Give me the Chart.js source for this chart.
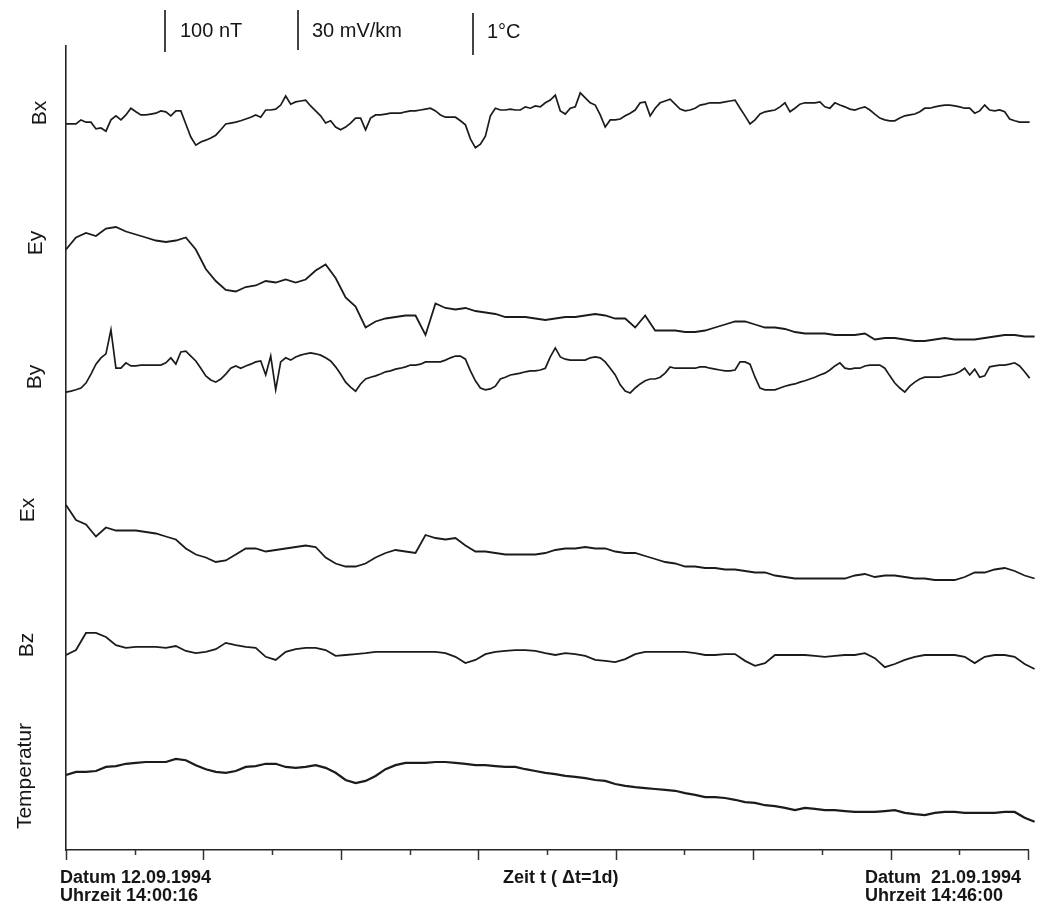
<!DOCTYPE html>
<html>
<head>
<meta charset="utf-8">
<title>Bx Ey By Ex Bz Temperatur</title>
<script src="https://cdn.jsdelivr.net/npm/chart.js@4.4.1/dist/chart.umd.min.js"></script>
<style>
  html, body { margin: 0; padding: 0; background: #fff; }
  #wrap { position: relative; width: 1038px; height: 910px; font-family: "Liberation Sans", Arial, sans-serif; color: #161616; }
  #chart { position: absolute; left: 0; top: 0; }
  .txt { position: absolute; white-space: pre; line-height: 1; }
  .scale { font-size: 20px; top: 20px; }
  .foot { font-size: 18px; font-weight: bold; }
  .ylab { position: absolute; font-size: 21px; line-height: 1; white-space: nowrap; transform: translate(-50%, -50%) rotate(-90deg); }
  .bar { position: absolute; width: 2px; background: #444; }
</style>
</head>
<body>
<div id="wrap">
  <canvas id="chart" width="1038" height="910"></canvas>

  <div class="bar" style="left:164px; top:10px; height:42px;"></div>
  <div class="txt scale" style="left:180px;">100 nT</div>
  <div class="bar" style="left:297px; top:10px; height:40px;"></div>
  <div class="txt scale" style="left:312px;">30 mV/km</div>
  <div class="bar" style="left:472px; top:13px; height:42px;"></div>
  <div class="txt scale" style="left:487px; top:21px;">1°C</div>

  <div class="ylab" style="left:38px; top:113px;">Bx</div>
  <div class="ylab" style="left:34px; top:243px;">Ey</div>
  <div class="ylab" style="left:33px; top:377px;">By</div>
  <div class="ylab" style="left:26px; top:510px;">Ex</div>
  <div class="ylab" style="left:25px; top:645px;">Bz</div>
  <div class="ylab" style="left:23px; top:776px;">Temperatur</div>

  <div class="txt foot" style="left:60px; top:868px;">Datum 12.09.1994</div>
  <div class="txt foot" style="left:60px; top:886px;">Uhrzeit 14:00:16</div>
  <div class="txt foot" style="left:503px; top:868px;">Zeit t ( Δt=1d)</div>
  <div class="txt foot" style="left:865px; top:868px;">Datum  21.09.1994</div>
  <div class="txt foot" style="left:865px; top:886px;">Uhrzeit 14:46:00</div>
</div>

<script>
'use strict';

// ------- Data (samples from 12.09.1994 14:00:16 on) ------- //
const fineStepHours = 1.125;   // Bx, By
const coarseStepHours = 2.25;  // Ey, Ex, Bz, Temperatur
const totalHours = 216.76;     // up to 21.09.1994 14:46:00
const tickCount = 14;

// nT
const bxValues = [
  -31, -31, -31, -22, -27, -27, -42, -40, -47, -22, -13, -22, -11, 4, -4, -11, -11, -9, -7, -2,
  -4, -13, -2, -2, -31, -60, -78, -71, -67, -62, -56, -44, -31, -29, -27, -24, -20, -16, -11, -16,
  0, 0, 2, 11, 31, 13, 18, 20, 22, 9, -2, -13, -29, -24, -38, -44, -38, -29, -18, -18,
  -44, -18, -11, -11, -9, -7, -7, -7, -4, -2, -2, 0, 2, 4, -2, -11, -16, -16, -16, -24,
  -33, -64, -84, -76, -58, -13, 4, 0, 0, 2, 0, 0, 7, 4, 9, 7, 16, 22, 33, -2,
  -9, 4, 7, 38, 27, 16, 11, -11, -38, -22, -22, -20, -13, -7, 0, 16, 18, -13, 4, 16,
  20, 24, 13, 2, -2, 0, 4, 11, 13, 16, 16, 16, 18, 20, 22, 4, -13, -31, -22, -9,
  -4, -2, 0, 7, 16, -4, 4, 13, 16, 16, 16, 18, 7, 4, 16, 11, 7, 2, 0, 4,
  7, 0, -9, -18, -22, -24, -24, -18, -13, -11, -9, -4, 4, 4, 7, 9, 11, 11, 9, 7,
  4, 4, -7, -2, 11, 0, -2, 0, -4, -20, -24, -27, -27, -27, -27,
];

// mV/km
const eyValues = [
  47, 55, 58, 56, 61, 62, 59, 57, 55, 53,
  52, 53, 55, 47, 34, 26, 20, 19, 22, 23,
  26, 25, 27, 25, 27, 33, 37, 28, 15, 9,
  -5, -1, 1, 2, 3, 3, -10, 11, 8, 7,
  8, 6, 5, 4, 2, 2, 2, 1, 0, 1,
  2, 2, 3, 4, 3, 1, 1, -5, 3, -7,
  -7, -7, -8, -8, -7, -5, -3, -1, -1, -3,
  -5, -5, -6, -8, -9, -9, -9, -10, -10, -10,
  -9, -13, -12, -12, -13, -14, -14, -13, -12, -13,
  -13, -13, -12, -11, -10, -10, -11, -11,
];

// nT
const byValues = [
  -49, -47, -44, -40, -29, -9, 13, 27, 36, 89,
  4, 4, 16, 9, 9, 11, 11, 11, 11, 11,
  16, 27, 13, 40, 42, 31, 20, 4, -13, -22,
  -27, -20, -9, 4, 9, 4, 9, 13, 18, 20,
  -11, 31, -44, 18, 27, 22, 29, 33, 36, 38,
  36, 33, 27, 20, 7, -9, -27, -38, -47, -31,
  -20, -16, -13, -9, -4, -2, 2, 4, 7, 11,
  11, 13, 18, 18, 18, 18, 22, 27, 31, 31,
  24, -2, -24, -40, -44, -42, -36, -20, -16, -11,
  -9, -7, -4, -2, -2, 0, 4, 29, 49, 29,
  24, 22, 22, 22, 22, 27, 29, 27, 18, 4,
  -11, -33, -47, -51, -40, -31, -24, -20, -20, -16,
  -7, 7, 4, 4, 4, 4, 4, 7, 7, 4,
  2, 0, -2, -2, 0, 18, 18, 13, -16, -40,
  -44, -44, -44, -40, -36, -33, -31, -27, -24, -20,
  -16, -11, -7, 0, 9, 16, 4, 2, 4, 4,
  9, 11, 11, 11, 4, -13, -29, -40, -49, -36,
  -27, -20, -16, -16, -16, -16, -13, -11, -9, -4,
  4, -11, 2, -16, -13, 7, 9, 11, 11, 13,
  16, 9, -4, -18, -33,
];

// mV/km
const exValues = [
  30, 20, 17, 9, 15, 13, 13, 13, 12, 11,
  9, 7, 1, -3, -5, -8, -7, -3, 1, 1,
  -1, 0, 1, 2, 3, 2, -5, -9, -11, -11,
  -9, -5, -2, 0, -1, -2, 10, 8, 7, 8,
  3, -1, -1, -2, -3, -3, -3, -3, -2, 0,
  1, 1, 2, 1, 1, -1, -2, -2, -4, -6,
  -8, -9, -11, -11, -12, -12, -13, -13, -14, -15,
  -15, -17, -18, -19, -19, -19, -19, -19, -19, -17,
  -16, -18, -17, -17, -18, -19, -19, -20, -20, -20,
  -18, -15, -15, -13, -12, -14, -17, -19,
];

// nT
const bzValues = [
  0, 11, 49, 49, 40, 22, 16, 18, 18, 18,
  16, 20, 9, 4, 7, 13, 27, 22, 18, 16,
  -4, -11, 7, 13, 16, 16, 11, -2, 0, 2,
  4, 7, 7, 7, 7, 7, 7, 7, 4, -4,
  -18, -11, 2, 7, 9, 11, 11, 9, 4, 0,
  4, 2, -2, -11, -13, -16, -9, 2, 7, 7,
  7, 7, 7, 4, 0, 0, 2, 2, -13, -24,
  -18, 0, 0, 0, 0, -2, -4, -2, 0, 0,
  4, -7, -27, -20, -11, -4, 0, 0, 0, 0,
  -4, -18, -4, 0, 0, -4, -20, -31,
];

// °C
const tempValues = [
  0.11, 0.18, 0.18, 0.2, 0.29, 0.31, 0.36, 0.38, 0.4, 0.4,
  0.4, 0.47, 0.44, 0.33, 0.24, 0.18, 0.16, 0.2, 0.29, 0.31,
  0.36, 0.36, 0.29, 0.27, 0.29, 0.33, 0.27, 0.16, 0, -0.07,
  -0.02, 0.09, 0.24, 0.33, 0.38, 0.38, 0.38, 0.4, 0.4, 0.38,
  0.36, 0.33, 0.33, 0.31, 0.29, 0.29, 0.24, 0.2, 0.16, 0.13,
  0.09, 0.07, 0.04, 0, -0.02, -0.09, -0.13, -0.16, -0.18, -0.2,
  -0.22, -0.24, -0.29, -0.33, -0.38, -0.38, -0.4, -0.44, -0.49, -0.51,
  -0.56, -0.58, -0.62, -0.67, -0.62, -0.64, -0.67, -0.67, -0.69, -0.71,
  -0.71, -0.71, -0.69, -0.67, -0.73, -0.76, -0.78, -0.73, -0.71, -0.71,
  -0.73, -0.73, -0.73, -0.73, -0.71, -0.71, -0.84, -0.93,
];

// ------- Layout: each trace gets its own hidden y axis ------- //
const plotTop = 46;
const plotBottom = 850;

// unitsPerPx: physical units per pixel, baselinePx: where value 0 sits
const traces = [
  { id: 'yBx', values: bxValues, step: fineStepHours, unitsPerPx: 20 / 9, baselinePx: 110, width: 1.7 },
  { id: 'yEy', values: eyValues, step: coarseStepHours, unitsPerPx: 2 / 3, baselinePx: 320, width: 1.8 },
  { id: 'yBy', values: byValues, step: fineStepHours, unitsPerPx: 20 / 9, baselinePx: 370, width: 1.7 },
  { id: 'yEx', values: exValues, step: coarseStepHours, unitsPerPx: 2 / 3, baselinePx: 550, width: 1.8 },
  { id: 'yBz', values: bzValues, step: coarseStepHours, unitsPerPx: 20 / 9, baselinePx: 655, width: 1.8 },
  { id: 'yT', values: tempValues, step: coarseStepHours, unitsPerPx: 1 / 45, baselinePx: 780, width: 2.2 },
];

function bandAxis(trace) {
  return {
    display: false,
    position: 'left',
    min: (trace.baselinePx - plotBottom) * trace.unitsPerPx,
    max: (trace.baselinePx - plotTop) * trace.unitsPerPx,
  };
}

const scales = {
  x: {
    type: 'linear',
    min: 0,
    max: totalHours,
    grid: { display: false, drawTicks: false },
    ticks: { display: false },
    border: { display: true, color: '#262626', width: 1.6 },
  },
  yFrame: {
    position: 'left',
    min: 0,
    max: 1,
    grid: { display: false, drawTicks: false },
    ticks: { display: false },
    border: { display: true, color: '#262626', width: 1.6 },
  },
};

const datasets = traces.map((trace) => {
  scales[trace.id] = bandAxis(trace);
  return {
    label: trace.id,
    data: trace.values.map((v, i) => ({ x: i * trace.step, y: v })),
    yAxisID: trace.id,
    borderColor: '#1b1b1b',
    borderWidth: trace.width,
    pointRadius: 0,
    tension: 0,
    clip: false,
  };
});

// ------- Tick marks under the time axis (long every second one) ------- //
const timeTicks = {
  id: 'timeTicks',
  afterDraw(chart) {
    const xScale = chart.scales.x;
    const ctx = chart.ctx;
    const y0 = xScale.top;
    ctx.save();
    ctx.strokeStyle = '#333';
    ctx.lineWidth = 1.5;
    for (let k = 0; k <= tickCount; k++) {
      const px = Math.round(xScale.getPixelForValue((k * totalHours) / tickCount)) + 0.5;
      ctx.beginPath();
      ctx.moveTo(px, y0);
      ctx.lineTo(px, y0 + (k % 2 === 0 ? 10 : 5));
      ctx.stroke();
    }
    ctx.restore();
  },
};

new Chart(document.getElementById('chart'), {
  type: 'line',
  data: { datasets: datasets },
  options: {
    responsive: false,
    animation: false,
    devicePixelRatio: 1,
    layout: { padding: { left: 66, right: 10, top: plotTop, bottom: 910 - plotBottom } },
    scales: scales,
    plugins: {
      legend: { display: false },
      tooltip: { enabled: false },
    },
  },
  plugins: [timeTicks],
});
</script>
</body>
</html>
